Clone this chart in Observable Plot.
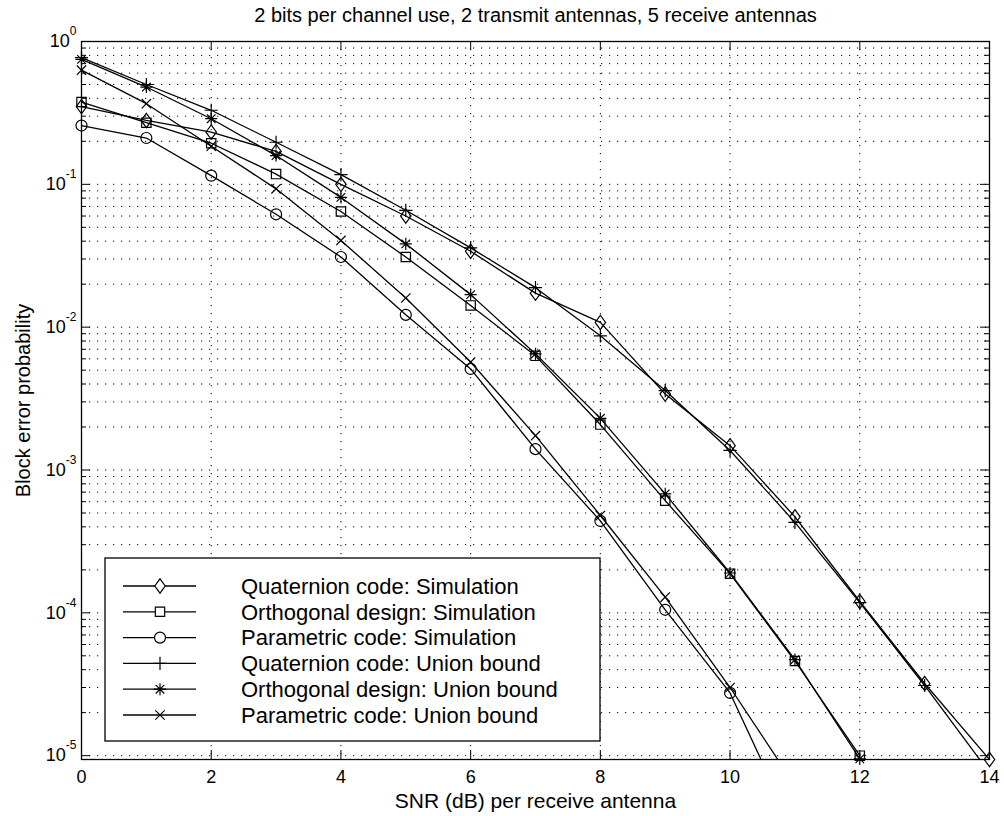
<!DOCTYPE html>
<html><head><meta charset="utf-8">
<script src="https://cdn.jsdelivr.net/npm/d3@7"></script>
<script src="https://cdn.jsdelivr.net/npm/@observablehq/plot@0.6"></script>
<style>body{margin:0;background:#fff} svg{display:block}</style>
</head><body><div id="chart"></div>
<script>
// ---- data ----
const snr = [0,1,2,3,4,5,6,7,8,9,10,11,12,13,14];
const quatSim  = [0.35,0.28,0.232,0.17,0.1,0.06,0.034,0.0173,0.0108,0.0034,0.00148,0.00047,0.00012,3.2e-5,9.4e-6];
const orthSim  = [0.377,0.27,0.194,0.118,0.0645,0.031,0.0142,0.0063,0.00208,0.00061,0.000188,4.6e-5,1.0e-5,null,null];
const paraSim  = [0.258,0.211,0.115,0.0617,0.031,0.0122,0.0051,0.0014,0.00044,0.000105,2.75e-5,2.9e-6,null,null,null];
const quatBound = [0.77,0.5,0.33,0.197,0.117,0.0658,0.0359,0.0189,0.0087,0.0036,0.00137,0.00043,0.000118,3.1e-5,7.6e-6];
const orthBound = [0.75,0.48,0.288,0.159,0.081,0.0383,0.0169,0.0065,0.0023,0.00068,0.00019,4.7e-5,9.5e-6,null,null];
const paraBound = [0.63,0.367,0.185,0.093,0.0405,0.016,0.0057,0.00174,0.00048,0.000129,3.0e-5,6.2e-6,null,null,null];

const seriesNames = [
  "Quaternion code: Simulation",
  "Orthogonal design: Simulation",
  "Parametric code: Simulation",
  "Quaternion code: Union bound",
  "Orthogonal design: Union bound",
  "Parametric code: Union bound"
];
const seriesMarkers = ["diamond","square","circle","plus","star","times"];
const seriesValues = [quatSim, orthSim, paraSim, quatBound, orthBound, paraBound];

const titleText = "2 bits per channel use, 2 transmit antennas, 5 receive antennas";
const xLabel = "SNR (dB) per receive antenna";
const yLabel = "Block error probability";
const xTicks = [0,2,4,6,8,10,12,14];
const yDecades = [-5,-4,-3,-2,-1,0];

// ---- derived ----
const yMin = 9.4e-6, yMax = 1;
const W = 1004, H = 816;
const mL = 81, mR = 15, mT = 41, mB = 57;
const plotW = W - mL - mR, plotH = H - mT - mB;
const font = "'Liberation Sans', Arial, Helvetica, sans-serif";

const rows = [];
seriesNames.forEach((name, si) => {
  seriesValues[si].forEach((v, i) => { if (v != null) rows.push({series: name, marker: seriesMarkers[si], x: snr[i], y: v}); });
});
const decadeVals = yDecades.map(e => Math.pow(10, e));
const minorVals = [];
yDecades.slice(0, -1).forEach(e => { for (let k = 2; k <= 9; k++) minorVals.push(k * Math.pow(10, e)); });
const gridVals = [...decadeVals, ...minorVals].filter(v => v >= yMin);
const minorIn = minorVals.filter(v => v >= yMin);

function sym(kind) {
  return {draw(ctx, size) {
    const r = Math.sqrt(size / Math.PI);
    if (kind === "diamond") { ctx.moveTo(0, -1.3*r); ctx.lineTo(0.95*r, 0); ctx.lineTo(0, 1.3*r); ctx.lineTo(-0.95*r, 0); ctx.closePath(); }
    else if (kind === "square") { const h = 0.85*r; ctx.moveTo(-h,-h); ctx.lineTo(h,-h); ctx.lineTo(h,h); ctx.lineTo(-h,h); ctx.closePath(); }
    else if (kind === "circle") { ctx.moveTo(r, 0); ctx.arc(0, 0, r, 0, 2*Math.PI); }
    else if (kind === "plus") { const p = 1.2*r; ctx.moveTo(-p,0); ctx.lineTo(p,0); ctx.moveTo(0,-p); ctx.lineTo(0,p); }
    else if (kind === "star") { const p = 1.1*r, q = 0.78*r; ctx.moveTo(-p,0); ctx.lineTo(p,0); ctx.moveTo(0,-p); ctx.lineTo(0,p); ctx.moveTo(-q,-q); ctx.lineTo(q,q); ctx.moveTo(-q,q); ctx.lineTo(q,-q); }
    else if (kind === "times") { const q = 0.85*r; ctx.moveTo(-q,-q); ctx.lineTo(q,q); ctx.moveTo(-q,q); ctx.lineTo(q,-q); }
  }};
}
const R = 5.5;

const marks = [
  Plot.gridX(xTicks, {stroke: "#000", strokeOpacity: 1, strokeWidth: 1, strokeDasharray: "1.2,6.8"}),
  Plot.gridY(gridVals, {stroke: "#000", strokeOpacity: 1, strokeWidth: 1, strokeDasharray: "1.2,6.8"}),
  Plot.line(rows, {x: "x", y: "y", z: "series", stroke: "#000", strokeWidth: 1.3, clip: true}),
  ...seriesMarkers.map((m, si) => Plot.dot(rows.filter(d => d.series === seriesNames[si] && d.y >= yMin * 0.999),
      {x: "x", y: "y", symbol: sym(m), r: R, fill: "none", stroke: "#000", strokeWidth: 1.2})),
  Plot.frame({stroke: "#000", strokeWidth: 1.3}),
  Plot.tickX(xTicks, {insetTop: plotH - 9, stroke: "#000"}),
  Plot.tickX(xTicks, {insetBottom: plotH - 9, stroke: "#000"}),
  Plot.tickY(decadeVals, {insetRight: plotW - 9, stroke: "#000"}),
  Plot.tickY(decadeVals, {insetLeft: plotW - 9, stroke: "#000"}),
  Plot.tickY(minorIn, {insetRight: plotW - 5, stroke: "#000"}),
  Plot.tickY(minorIn, {insetLeft: plotW - 5, stroke: "#000"}),
  Plot.axisX({ticks: xTicks, tickSize: 0, tickPadding: 11, fontSize: 18, label: null, tickFormat: d => String(d)}),
  Plot.axisY({ticks: decadeVals, tickSize: 0, tickPadding: 5, fontSize: 18, label: null, tickFormat: v => "10^" + Math.round(Math.log10(v))}),
  Plot.text([titleText], {text: d => d, frameAnchor: "top", dy: -26, lineAnchor: "middle", textAnchor: "middle", fontSize: 20}),
  Plot.text([xLabel], {text: d => d, frameAnchor: "bottom", dy: 42, lineAnchor: "middle", textAnchor: "middle", fontSize: 21}),
  Plot.text([yLabel], {text: d => d, frameAnchor: "left", dx: -58, rotate: -90, lineAnchor: "middle", textAnchor: "middle", fontSize: 20})
];

const svg = Plot.plot({
  width: W, height: H,
  marginLeft: mL, marginRight: mR, marginTop: mT, marginBottom: mB,
  style: {fontFamily: font, background: "#fff", color: "#000"},
  x: {domain: [0, 14]},
  y: {type: "log", domain: [yMin, yMax]},
  marks
});

// superscript exponents on the y tick labels
d3.select(svg).selectAll("text").each(function() {
  const m = /^10\^(-?\d+)$/.exec(this.textContent);
  if (m) {
    const t = d3.select(this);
    t.text("10");
    t.append("tspan").attr("dy", "-12").attr("font-size", "12px").text(m[1]);
  }
});

// legend
const lg = d3.select(svg).append("g").attr("font-family", font).attr("font-size", 22).attr("text-anchor", "start");
const box = {x: 105, y: 558, w: 495, h: 183};
lg.append("rect").attr("x", box.x).attr("y", box.y).attr("width", box.w).attr("height", box.h)
  .attr("fill", "#fff").attr("stroke", "#000").attr("stroke-width", 1.3);
seriesNames.forEach((name, i) => {
  const yy = 586 + i * 25.8;
  lg.append("line").attr("x1", 123).attr("x2", 196).attr("y1", yy).attr("y2", yy).attr("stroke", "#000").attr("stroke-width", 1.3);
  lg.append("path").attr("transform", `translate(160,${yy})`)
    .attr("d", d3.symbol(sym(seriesMarkers[i]), Math.PI * R * R)())
    .attr("fill", "#fff").attr("stroke", "#000").attr("stroke-width", 1.2);
  lg.append("text").attr("x", 241).attr("y", yy).attr("dy", "0.35em").attr("text-anchor", "start").text(name);
});

document.getElementById("chart").appendChild(svg);
</script>
</body></html>
